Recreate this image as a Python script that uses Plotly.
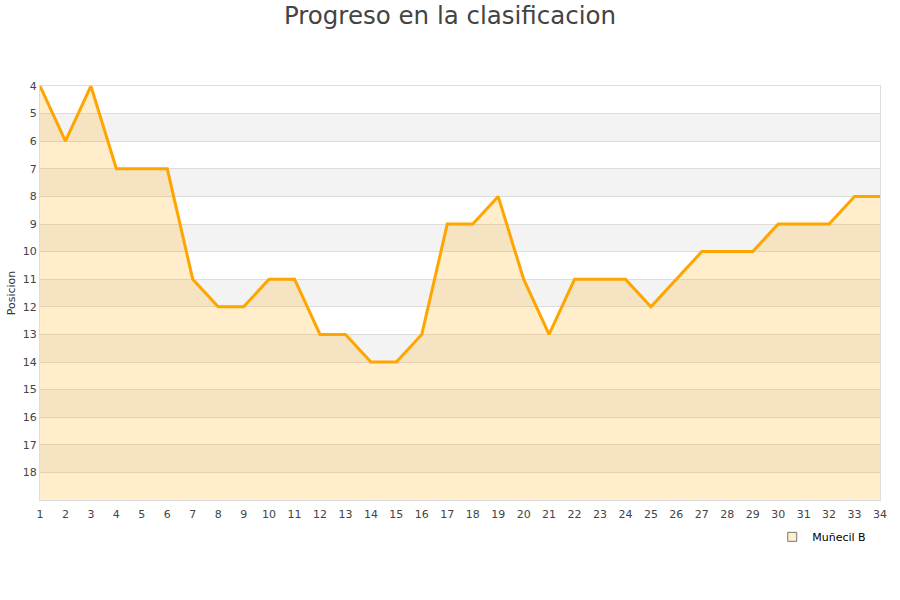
import plotly.graph_objects as go

jornadas = list(range(1, 35))
posiciones = [4, 6, 4, 7, 7, 7, 11, 12, 12, 11, 11, 13, 13, 14, 14, 13, 9, 9, 8, 11,
              13, 11, 11, 11, 12, 11, 10, 10, 10, 9, 9, 9, 8, 8]
y_ticks = list(range(4, 19))
y_bottom = 19
equipo = "Muñecil B"

fig = go.Figure()

# baseline for fill
fig.add_trace(go.Scatter(x=jornadas, y=[y_bottom] * len(jornadas), mode="lines",
                         line=dict(width=0, color="rgba(0,0,0,0)"), showlegend=False,
                         hoverinfo="skip"))
fig.add_trace(go.Scatter(x=jornadas, y=posiciones, mode="lines", name=equipo,
                         line=dict(color="#FFA500", width=3), showlegend=False,
                         fill="tonexty", fillcolor="rgba(255,165,0,0.2)"))
# legend entry
fig.add_trace(go.Scatter(x=[None], y=[None], mode="markers", name=equipo,
                         marker=dict(symbol="square", size=9, color="#ffeecc",
                                     line=dict(color="#777", width=1))))

shapes = []
for k in range(5, 19, 2):
    shapes.append(dict(type="rect", xref="paper", yref="y", x0=0, x1=1, y0=k, y1=k + 1,
                       fillcolor="#f3f3f3", line=dict(width=0), layer="below"))

fig.update_layout(
    width=900, height=600,
    paper_bgcolor="white", plot_bgcolor="white",
    margin=dict(l=40, r=20, t=86, b=100, autoexpand=False),
    title=dict(text="Progreso en la clasificacion", x=0.5, xanchor="center", y=0.988,
               yanchor="top", font=dict(family="DejaVu Sans, Verdana, sans-serif", size=24.5, color="#444")),
    font=dict(family="DejaVu Sans, Verdana, sans-serif", size=11, color="#444"),
    shapes=shapes,
    showlegend=True,
    legend=dict(x=0.8717, y=-0.054, xanchor="left", yanchor="top", bgcolor="rgba(0,0,0,0)",
                font=dict(size=11, color="#000"), itemwidth=30),
    xaxis=dict(range=[1, 34], tickvals=jornadas, ticktext=[str(j) for j in jornadas],
               showgrid=False, zeroline=False, showline=True, linecolor="#ddd", linewidth=1,
               mirror=True, ticks="", automargin=False, ticklabelstandoff=4,
               tickfont=dict(size=11, color="#444")),
    yaxis=dict(range=[y_bottom, 4], tickvals=y_ticks, ticktext=[str(t) for t in y_ticks],
               showgrid=True, gridcolor="#dddddd", zeroline=False, showline=True,
               linecolor="#ddd", linewidth=1, mirror=True, ticks="", automargin=False,
               title=dict(text="Posicion", font=dict(size=11, color="#333"), standoff=4),
               tickfont=dict(size=11, color="#444")),
)

fig.write_html("out.html", config={"displayModeBar": False},
               post_script="document.body.style.margin='0';")
